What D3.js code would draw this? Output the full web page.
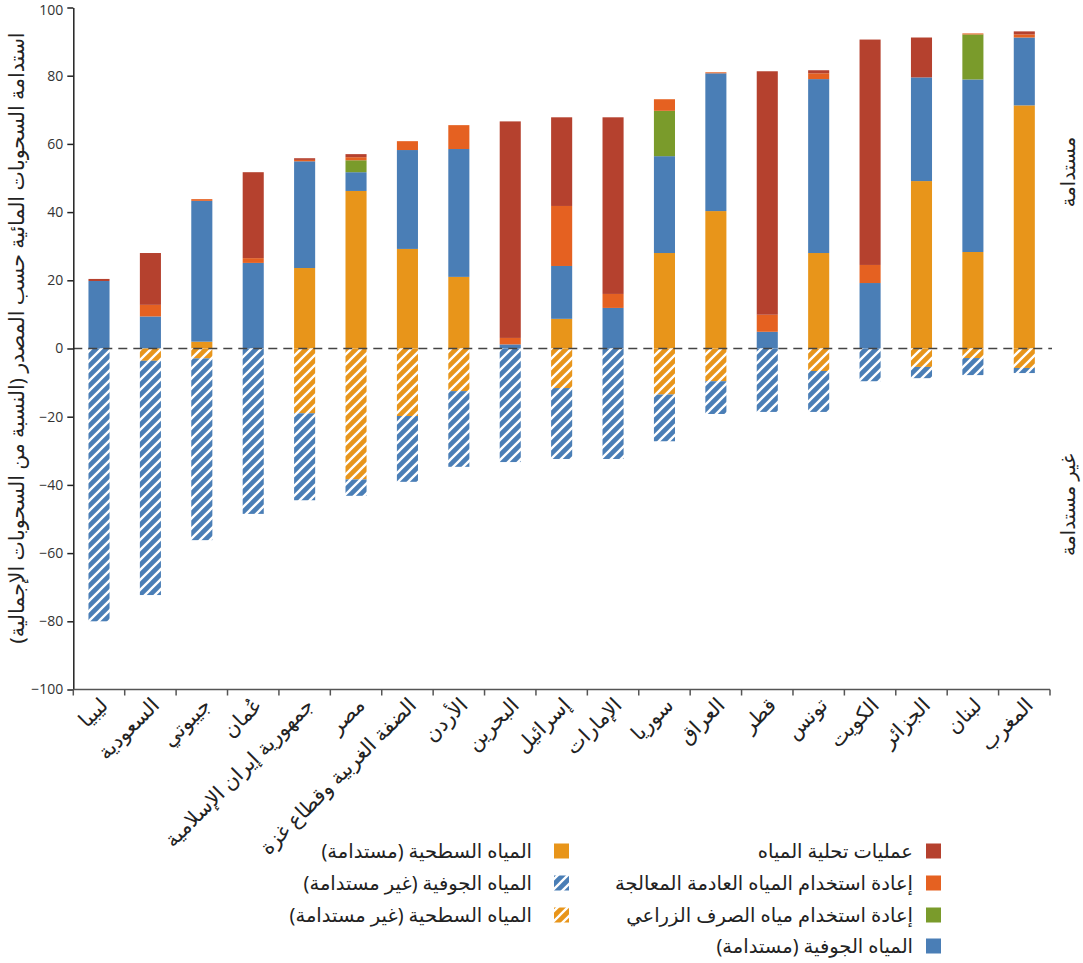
<!DOCTYPE html>
<html lang="ar">
<head>
<meta charset="utf-8">
<script src="https://cdn.jsdelivr.net/npm/d3@7"></script>
<style>
  html, body { margin: 0; padding: 0; background: #fff; }
  svg { display: block; font-family: "Noto Sans", "DejaVu Sans", sans-serif; }
</style>
</head>
<body>
<svg id="chart" width="1083" height="963"></svg>
<script>
// Countries, ordered by total sustainable share
const categories = ["ليبيا", "السعودية", "جيبوتي", "عُمان", "جمهورية إيران الإسلامية", "مصر",
  "الضفة الغربية وقطاع غزة", "الأردن", "البحرين", "إسرائيل", "الإمارات", "سوريا", "العراق",
  "قطر", "تونس", "الكويت", "الجزائر", "لبنان", "المغرب"];

// Sustainable sources (% of total withdrawals)
const surfaceSustainable = [0, 0, 2.0, 0, 23.6, 46.2, 29.2, 21.0, 0, 8.7, 0, 28.0, 40.3, 0, 28.0, 0, 49.1, 28.3, 71.3];
const groundSustainable  = [19.8, 9.4, 41.3, 25.1, 31.3, 5.5, 29.0, 37.5, 1.2, 15.5, 11.9, 28.4, 40.4, 4.9, 51.0, 19.2, 30.4, 50.6, 19.9];
const drainageReuse      = [0, 0, 0, 0, 0, 3.5, 0, 0, 0, 0, 0, 13.3, 0, 0, 0, 0, 0, 13.2, 0];
const wastewaterReuse    = [0, 3.4, 0.5, 1.4, 0.4, 0.9, 2.6, 7.0, 1.9, 17.6, 4.1, 3.4, 0.3, 5.0, 1.7, 5.3, 0, 0.3, 0.9];
const desalination       = [0.6, 15.2, 0, 25.2, 0.5, 0.9, 0, 0, 63.5, 26.0, 51.8, 0, 0, 71.4, 0.9, 66.1, 11.7, 0, 0.9];

// Unsustainable sources (% of total withdrawals, drawn below zero)
const surfaceUnsustainable = [0, 3.6, 2.9, 0, 19.0, 38.4, 19.8, 12.5, 0, 11.6, 0, 13.5, 9.6, 0, 6.6, 0, 5.4, 2.8, 5.7];
const groundUnsustainable  = [80.0, 68.7, 53.3, 48.5, 25.5, 4.8, 19.3, 22.2, 33.3, 20.8, 32.4, 13.7, 9.6, 18.6, 12.0, 9.6, 3.3, 5.0, 1.5];

const yTicks = [-100, -80, -60, -40, -20, 0, 20, 40, 60, 80, 100];

const series = [
  { key: "swS",  label: "المياه السطحية (مستدامة)",           color: "#e8951a", hatch: false, values: surfaceSustainable },
  { key: "gwS",  label: "المياه الجوفية (مستدامة)",           color: "#4a7eb6", hatch: false, values: groundSustainable },
  { key: "agr",  label: "إعادة استخدام مياه الصرف الزراعي",   color: "#7a9b2b", hatch: false, values: drainageReuse },
  { key: "ww",   label: "إعادة استخدام المياه العادمة المعالجة", color: "#e56121", hatch: false, values: wastewaterReuse },
  { key: "des",  label: "عمليات تحلية المياه",                color: "#b5412e", hatch: false, values: desalination },
  { key: "swU",  label: "المياه السطحية (غير مستدامة)",       color: "#e8951a", hatch: true,  values: surfaceUnsustainable.map(v => -v) },
  { key: "gwU",  label: "المياه الجوفية (غير مستدامة)",       color: "#4a7eb6", hatch: true,  values: groundUnsustainable.map(v => -v) }
];

const rows = categories.map((c, i) => {
  const r = { country: c };
  series.forEach(s => { r[s.key] = s.values[i]; });
  return r;
});

const stacked = d3.stack()
  .keys(series.map(s => s.key))
  .offset(d3.stackOffsetDiverging)(rows);

const svg = d3.select("#chart");
const plotLeft = 73.3, plotRight = 1050, plotTop = 7.5, plotBottom = 689.5;

const x = d3.scaleBand().domain(categories).range([plotLeft, plotRight]).paddingInner(0.59).paddingOuter(0.295);
const y = d3.scaleLinear().domain([-100, 100]).range([plotBottom, plotTop]);

// hatch patterns for the unsustainable sources
const defs = svg.append("defs");
series.filter(s => s.hatch).forEach(s => {
  const p = defs.append("pattern")
    .attr("id", "hatch-" + s.key)
    .attr("patternUnits", "userSpaceOnUse")
    .attr("width", 10).attr("height", 10);
  p.append("rect").attr("width", 10).attr("height", 10).attr("fill", s.color);
  p.append("path")
    .attr("d", "M-2,2 L2,-2 M0,10 L10,0 M8,12 L12,8")
    .attr("stroke", "#fff").attr("stroke-width", 2.3);
});
const fillOf = s => s.hatch ? `url(#hatch-${s.key})` : s.color;

// bars
const layers = svg.append("g").selectAll("g").data(stacked).join("g")
  .attr("fill", d => fillOf(series.find(s => s.key === d.key)));
layers.selectAll("rect").data(d => d).join("rect")
  .attr("x", d => x(d.data.country))
  .attr("width", x.bandwidth())
  .attr("y", d => y(Math.max(d[0], d[1])))
  .attr("height", d => Math.abs(y(d[0]) - y(d[1])));

// zero reference line
svg.append("line")
  .attr("x1", plotLeft).attr("x2", plotRight + 2)
  .attr("y1", y(0)).attr("y2", y(0))
  .attr("stroke", "#444").attr("stroke-width", 1.3)
  .attr("stroke-dasharray", "9,6");

// y axis
const yAxis = svg.append("g")
  .attr("transform", `translate(${plotLeft},0)`)
  .call(d3.axisLeft(y).tickValues(yTicks).tickSize(6).tickPadding(4).tickSizeOuter(0));
yAxis.select(".domain").attr("stroke", "#222").attr("stroke-width", 1.5);
yAxis.selectAll(".tick line").attr("stroke", "#222").attr("stroke-width", 1.5);
yAxis.selectAll(".tick text").attr("font-size", 14).attr("fill", "#333")
  .attr("font-family", "'Open Sans', 'Noto Sans', sans-serif")
  .filter(d => d === 100).attr("dy", "0.52em");  // keep the top label inside the page

// x axis: ticks sit on band boundaries
const xAxisG = svg.append("g").attr("transform", `translate(0,${plotBottom})`);
xAxisG.append("line").attr("x1", plotLeft).attr("x2", plotRight)
  .attr("stroke", "#555").attr("stroke-width", 1.5);
const step = x.step();
const boundaries = d3.range(categories.length + 1).map(i => plotLeft + i * step);
xAxisG.selectAll("line.tick").data(boundaries).join("line")
  .attr("class", "tick")
  .attr("x1", d => d).attr("x2", d => d)
  .attr("y1", 0).attr("y2", 6)
  .attr("stroke", "#555").attr("stroke-width", 1.5);

// rotated country labels
svg.append("g").selectAll("text").data(categories).join("text")
  .attr("transform", d => `translate(${x(d) + x.bandwidth() / 2 + 5},${plotBottom + 12}) rotate(-45)`)
  .attr("direction", "rtl")
  .attr("text-anchor", "start")
  .attr("dy", "0.35em")
  .attr("font-size", 20.5)
  .attr("fill", "#222")
  .text(d => d);

// y axis title
svg.append("text")
  .attr("transform", `translate(17,338) rotate(-90)`)
  .attr("direction", "rtl")
  .attr("text-anchor", "middle")
  .attr("dy", "0.35em")
  .attr("font-size", 20.5)
  .attr("fill", "#222")
  .text("استدامة السحوبات المائية حسب المصدر (النسبة من السحوبات الإجمالية)");

// side labels for the two halves
[["مستدامة", 172], ["غير مستدامة", 505]].forEach(([t, cy]) => {
  svg.append("text")
    .attr("transform", `translate(1068,${cy}) rotate(-90)`)
    .attr("direction", "rtl")
    .attr("text-anchor", "middle")
    .attr("dy", "0.35em")
    .attr("font-size", 19.5)
    .attr("fill", "#222")
    .text(t);
});

// legend: two right-aligned columns
const legendCols = [
  { swatchX: 926, textX: 913, keys: ["des", "ww", "agr", "gwS"] },
  { swatchX: 554, textX: 532, keys: ["swS", "gwU", "swU"] }
];
const legendRows = [851, 883, 915, 946];
legendCols.forEach(col => {
  col.keys.forEach((k, i) => {
    const s = series.find(d => d.key === k);
    const g = svg.append("g").attr("transform", `translate(0,${legendRows[i]})`);
    g.append("rect").attr("x", col.swatchX).attr("y", -7.5)
      .attr("width", 15).attr("height", 15).attr("fill", fillOf(s));
    g.append("text")
      .attr("x", col.textX)
      .attr("direction", "rtl")
      .attr("text-anchor", "start")
      .attr("dy", "0.35em")
      .attr("font-size", 19.5)
      .attr("fill", "#222")
      .text(s.label);
  });
});
</script>
</body>
</html>
